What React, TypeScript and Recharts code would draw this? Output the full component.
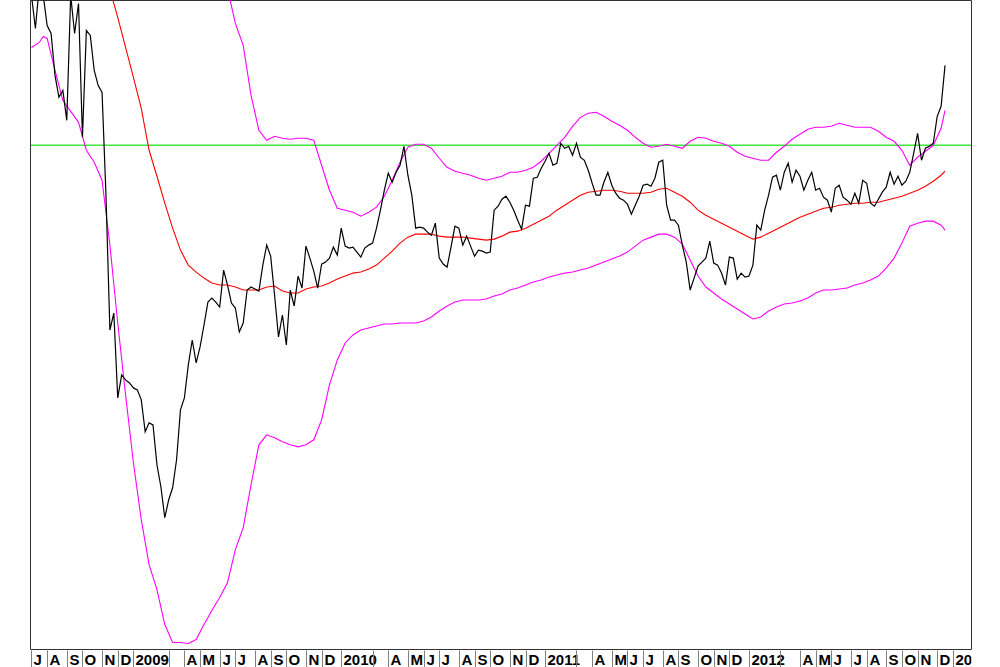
import React from 'react';
import { LineChart, Line, XAxis, YAxis, ReferenceLine } from 'recharts';

// weekly closes, one value per week starting first week of July 2008
const CLOSE = [
  65.5, 62.2, 66.5, 65.5, 62.5, 61.7, 57.5, 55.3, 56.0, 53.0,
  65.5, 61.7, 64.7, 51.3, 62.0, 61.5, 58.0, 56.5, 55.8, 45.5,
  32.0, 33.7, 25.2, 27.5, 27.0, 26.7, 26.2, 26.0, 25.0, 21.8,
  22.7, 22.5, 18.5, 16.3, 13.2, 15.0, 16.2, 19.0, 24.0, 25.2,
  28.5, 31.0, 28.7, 30.3, 32.5, 34.8, 35.2, 34.8, 34.3, 38.0,
  36.5, 34.7, 34.2, 31.8, 32.7, 36.0, 36.3, 36.1, 35.9, 38.5,
  40.5, 39.4, 35.5, 31.3, 33.5, 30.5, 36.0, 34.4, 37.4, 36.2,
  40.4, 39.2, 37.9, 36.2, 38.6, 38.8, 39.2, 40.3, 39.5, 42.2,
  40.4, 40.2, 40.3, 39.8, 39.3, 40.2, 40.5, 40.7, 42.2, 44.0,
  46.0, 47.7, 46.8, 47.8, 48.5, 50.4, 47.5, 45.5, 42.2, 42.3,
  42.2, 41.8, 41.5, 42.7, 39.2, 38.6, 38.3, 40.3, 42.4, 42.2,
  40.5, 41.4, 40.4, 39.4, 40.0, 39.9, 39.7, 39.8, 44.0, 44.4,
  45.1, 45.4, 44.8, 44.0, 43.0, 42.1, 44.5, 44.4, 47.2, 47.3,
  48.2, 48.9, 49.7, 48.5, 48.7, 50.7, 50.2, 50.4, 49.5, 50.7,
  49.3, 49.0, 48.0, 46.7, 45.5, 45.5, 46.8, 47.8, 46.5, 45.7,
  45.2, 45.0, 44.6, 43.6, 44.5, 45.4, 46.5, 46.6, 46.4, 47.2,
  48.8, 49.0, 44.5, 43.0, 43.0, 42.5, 40.5, 38.8, 36.0, 37.2,
  38.4, 38.8, 39.2, 40.9, 38.7, 38.5, 37.7, 36.5, 39.3, 39.2,
  37.1, 37.7, 37.3, 37.4, 38.5, 42.5, 42.0, 44.0, 45.5, 47.3,
  47.5, 46.0, 47.8, 48.7, 46.8, 48.0, 47.4, 46.0, 47.0, 47.8,
  46.0, 46.2, 45.3, 45.0, 43.8, 46.2, 46.5, 45.3, 45.0, 44.6,
  45.7, 44.7, 47.0, 46.7, 44.7, 44.4, 45.1, 45.8, 46.3, 47.8,
  46.6, 47.4, 46.5, 46.9, 47.8, 49.7, 51.7, 49.0, 50.2, 50.4,
  50.7, 53.4, 54.4, 58.5,
];

// [week, value]
const AVERAGE: [number, number][] = [
  [18, 68.8], [20, 66.1], [22, 63.3], [24, 60.3], [26, 57.3], [28, 54.2], [30, 50.0], [32, 47.4],
  [34, 44.7], [36, 42.2], [38, 40.0], [40, 38.5], [42, 37.8], [44, 37.2], [46, 36.7], [48, 36.5],
  [50, 36.5], [52, 36.3], [54, 36.0], [56, 36.0], [58, 36.0], [60, 36.3], [62, 36.4], [64, 35.9],
  [66, 35.7], [68, 35.7], [70, 36.1], [72, 36.3], [74, 36.4], [76, 36.7], [78, 37.1], [80, 37.4],
  [82, 37.7], [84, 37.8], [86, 38.1], [88, 38.5], [90, 39.2], [92, 39.9], [94, 40.7], [96, 41.3],
  [98, 41.6], [100, 41.6], [102, 41.6], [104, 41.4], [106, 41.3], [108, 41.3], [110, 41.3], [112, 41.2],
  [114, 41.1], [116, 41.0], [118, 41.1], [120, 41.4], [122, 41.8], [124, 41.9], [126, 42.2], [128, 42.6],
  [130, 43.0], [132, 43.4], [134, 44.0], [136, 44.5], [138, 45.0], [140, 45.5], [142, 45.8], [144, 45.9],
  [146, 46.0], [148, 46.0], [150, 45.9], [152, 45.7], [154, 45.7], [156, 45.7], [158, 45.8], [160, 46.1],
  [162, 46.2], [164, 45.8], [166, 45.4], [168, 44.8], [170, 44.0], [172, 43.5], [174, 43.1], [176, 42.7],
  [178, 42.3], [180, 41.9], [182, 41.5], [184, 41.1], [186, 41.3], [188, 41.7], [190, 42.1], [192, 42.5],
  [194, 42.9], [196, 43.3], [198, 43.6], [200, 43.9], [202, 44.2], [204, 44.3], [206, 44.5], [208, 44.6],
  [210, 44.7], [212, 44.7], [214, 44.8], [216, 44.8], [218, 45.0], [220, 45.2], [222, 45.4], [224, 45.7],
  [226, 46.0], [228, 46.4], [230, 46.9], [232, 47.5], [233, 47.9],
];

const UPPER: [number, number][] = [
  [50, 66.2], [52, 62.7], [54, 60.5], [56, 55.5], [58, 52.0], [60, 51.0], [62, 51.4], [64, 51.2],
  [66, 51.1], [68, 51.2], [70, 51.2], [72, 51.0], [74, 48.5], [76, 46.0], [78, 44.2], [80, 44.0],
  [82, 43.8], [84, 43.4], [86, 43.8], [88, 44.3], [90, 45.4], [92, 47.0], [94, 48.8], [96, 50.3],
  [98, 50.6], [100, 50.6], [102, 50.2], [104, 49.2], [106, 48.3], [108, 47.9], [110, 47.7], [112, 47.5],
  [114, 47.2], [116, 47.0], [118, 47.2], [120, 47.4], [122, 47.8], [124, 47.8], [126, 48.0], [128, 48.3],
  [130, 48.9], [132, 49.7], [134, 50.5], [136, 51.3], [138, 52.4], [140, 53.3], [142, 53.7], [144, 53.8],
  [146, 53.4], [148, 52.9], [150, 52.5], [152, 52.0], [154, 51.3], [156, 50.7], [158, 50.3], [160, 50.4],
  [162, 50.6], [164, 50.4], [166, 50.2], [168, 50.9], [170, 51.3], [172, 51.2], [174, 50.9], [176, 50.7],
  [178, 50.4], [180, 49.8], [182, 49.4], [184, 49.2], [186, 49.0], [188, 49.0], [190, 49.8], [192, 50.4],
  [194, 51.1], [196, 51.6], [198, 52.1], [200, 52.3], [202, 52.3], [204, 52.4], [206, 52.7], [208, 52.5],
  [210, 52.3], [212, 52.3], [214, 52.3], [216, 51.9], [218, 51.3], [220, 50.9], [222, 50.0], [224, 48.5],
  [226, 49.3], [228, 49.9], [230, 50.5], [232, 52.2], [233, 54.0],
];

const LOWER: [number, number][] = [
  [0, 60.3], [2, 60.8], [3, 61.4], [4, 61.2], [6, 58.0], [8, 55.0], [10, 53.9], [12, 52.8],
  [14, 50.0], [16, 48.8], [18, 47.0], [20, 40.5], [22, 32.7], [24, 25.5], [26, 18.7], [28, 13.0],
  [30, 8.5], [32, 6.0], [34, 2.5], [36, 0.7], [38, 0.7], [40, 0.6], [42, 1.0], [44, 2.5],
  [46, 3.9], [48, 5.2], [50, 6.7], [52, 10.0], [54, 12.2], [56, 16.5], [58, 20.5], [60, 21.5],
  [62, 21.2], [64, 20.8], [66, 20.5], [68, 20.3], [70, 20.5], [72, 21.0], [74, 23.0], [76, 26.5],
  [78, 29.0], [80, 30.7], [82, 31.5], [84, 32.0], [86, 32.2], [88, 32.4], [90, 32.6], [92, 32.6],
  [94, 32.7], [96, 32.7], [98, 32.7], [100, 32.9], [102, 33.3], [104, 33.9], [106, 34.4], [108, 34.8],
  [110, 35.0], [112, 35.0], [114, 35.0], [116, 35.1], [118, 35.4], [120, 35.6], [122, 36.0], [124, 36.2],
  [126, 36.5], [128, 36.8], [130, 37.0], [132, 37.3], [134, 37.5], [136, 37.7], [138, 37.8], [140, 38.0],
  [142, 38.2], [144, 38.5], [146, 38.8], [148, 39.1], [150, 39.4], [152, 39.8], [154, 40.4], [156, 41.0],
  [158, 41.3], [160, 41.6], [162, 41.6], [164, 41.3], [166, 40.6], [168, 39.0], [170, 37.4], [172, 36.3],
  [174, 35.7], [176, 35.1], [178, 34.6], [180, 34.1], [182, 33.6], [184, 33.1], [186, 33.3], [188, 33.9],
  [190, 34.3], [192, 34.6], [194, 34.7], [196, 34.9], [198, 35.2], [200, 35.7], [202, 36.0], [204, 36.0],
  [206, 36.1], [208, 36.2], [210, 36.5], [212, 36.7], [214, 37.0], [216, 37.4], [218, 38.2], [220, 39.2],
  [222, 40.7], [224, 42.4], [226, 42.7], [228, 42.9], [230, 42.9], [232, 42.5], [233, 42.0],
];

const LEVEL = 50.5;

// first week of each month; null = no mark, '' = separator only
const MONTH_WEEKS = [
  0, 4, 9, 13, 18, 22,
  26, 31, 35, 39, 43, 48, 52, 57, 61, 65, 70, 74,
  79, 83, 87, 91, 96, 100, 104, 109, 113, 117, 122, 126,
  131, 135, 139, 143, 148, 152, 156, 161, 165, 170, 174, 178,
  183, 187, 191, 196, 200, 204, 209, 213, 218, 222, 226, 231,
  235,
];
const MONTH_LABELS: (string | null)[] = [
  'J', 'A', 'S', 'O', 'N', 'D',
  '2009', null, '', 'A', 'M', 'J', 'J', 'A', 'S', 'O', 'N', 'D',
  '2010', null, '', 'A', 'M', 'J', 'J', 'A', 'S', 'O', 'N', 'D',
  '2011', null, '', 'A', 'M', 'J', 'J', 'A', 'S', 'O', 'N', 'D',
  '2012', null, '', 'A', 'M', 'J', 'J', 'A', 'S', 'O', 'N', 'D',
  '2013',
];

const W = 1000;
const H = 667;
const MARGIN = { top: 0.5, right: 27.5, bottom: 0, left: 29.5 };
const X_AXIS_H = 17.5;
const AXIS_Y = H - MARGIN.bottom - X_AXIS_H;
const PLOT_RIGHT = W - MARGIN.right - 1;

const closeData = CLOSE.map((v, w) => ({ w, v }));
const avgData = AVERAGE.map(([w, v]) => ({ w, v }));
const upperData = UPPER.map(([w, v]) => ({ w, v }));
const lowerData = LOWER.map(([w, v]) => ({ w, v }));

const MonthTick = (props: any) => {
  const { x, payload } = props;
  const idx = MONTH_WEEKS.indexOf(payload.value);
  const label = MONTH_LABELS[idx];
  if (label === null || label === undefined) return <g />;
  const left = Math.round(x) + 0.5;
  return (
    <g>
      <line x1={left} x2={left} y1={AXIS_Y + 1} y2={H} stroke="#808080" />
      {label !== '' && (
        <svg x={left + 1} y={AXIS_Y} width={Math.max(0, PLOT_RIGHT - left - 1)} height={H - AXIS_Y}>
          <text
            x={1}
            y={15.5}
            fontFamily="'Liberation Sans', Arial, sans-serif"
            fontWeight="bold"
            fontSize={15}
            fill="#000"
          >
            {label}
          </text>
        </svg>
      )}
    </g>
  );
};

const App: React.FC = () => (
  <div style={{ position: 'absolute', left: 0, top: 0, width: W, height: H, background: '#fff' }}>
    <LineChart width={W} height={H} margin={MARGIN}>
      <XAxis
        dataKey="w"
        type="number"
        scale="linear"
        domain={[-0.25, 239.75]}
        allowDataOverflow
        ticks={MONTH_WEEKS}
        interval={0}
        height={X_AXIS_H}
        tickLine={false}
        tickSize={0}
        tickMargin={0}
        tick={MonthTick}
        axisLine={{ stroke: '#333' }}
      />
      <YAxis
        yAxisId="left"
        width={1}
        type="number"
        domain={[0, 65]}
        allowDataOverflow
        ticks={[3]}
        tick={false}
        tickSize={3}
        axisLine={{ stroke: '#333' }}
        tickLine={{ stroke: '#333' }}
      />
      <YAxis
        yAxisId="right"
        orientation="right"
        width={1}
        type="number"
        domain={[0, 65]}
        allowDataOverflow
        ticks={[3]}
        tick={false}
        tickSize={3}
        axisLine={{ stroke: '#333' }}
        tickLine={{ stroke: '#333' }}
      />
      <ReferenceLine yAxisId="left" y={65} stroke="#333" />
      <ReferenceLine yAxisId="left" y={LEVEL} stroke="#3ee63e" strokeWidth={1.5} />
      <Line yAxisId="left" data={upperData} dataKey="v" stroke="#ff00ff" strokeWidth={1.1} dot={false} isAnimationActive={false} />
      <Line yAxisId="left" data={lowerData} dataKey="v" stroke="#ff00ff" strokeWidth={1.1} dot={false} isAnimationActive={false} />
      <Line yAxisId="left" data={avgData} dataKey="v" stroke="#ff0000" strokeWidth={1.1} dot={false} isAnimationActive={false} />
      <Line yAxisId="left" data={closeData} dataKey="v" stroke="#000" strokeWidth={1.2} dot={false} isAnimationActive={false} />
    </LineChart>
  </div>
);

export default App;
